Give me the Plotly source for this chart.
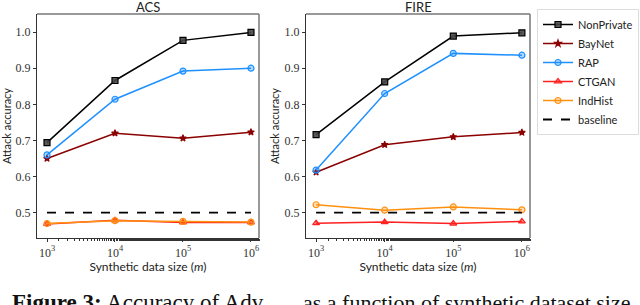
import plotly.graph_objects as go

sizes = [1e3, 1e4, 1e5, 1e6]
tick_vals = [1e3, 1e4, 1e5, 1e6]
tick_text = ["10<sup>3</sup>", "10<sup>4</sup>", "10<sup>5</sup>", "10<sup>6</sup>"]
y_ticks = [0.5, 0.6, 0.7, 0.8, 0.9, 1.0]

series_names = ["NonPrivate", "BayNet", "RAP", "CTGAN", "IndHist"]

acs_nonprivate = [0.694, 0.866, 0.977, 0.999]
acs_baynet = [0.650, 0.720, 0.706, 0.723]
acs_rap = [0.660, 0.814, 0.892, 0.900]
acs_ctgan = [0.469, 0.479, 0.473, 0.473]
acs_indhist = [0.470, 0.478, 0.476, 0.474]

fire_nonprivate = [0.716, 0.862, 0.989, 0.998]
fire_baynet = [0.612, 0.688, 0.710, 0.722]
fire_rap = [0.618, 0.830, 0.941, 0.936]
fire_ctgan = [0.471, 0.474, 0.470, 0.476]
fire_indhist = [0.522, 0.507, 0.516, 0.508]

baseline = [0.5, 0.5, 0.5, 0.5]

styles = {
    "NonPrivate": dict(color="#000000", symbol="square", size=6, fill="rgba(70,70,70,0.9)"),
    "BayNet": dict(color="#8B0000", symbol="star", size=5, fill="#8B0000"),
    "RAP": dict(color="#1E90FF", symbol="circle", size=6, fill="rgba(30,144,255,0.35)"),
    "CTGAN": dict(color="#FF2020", symbol="triangle-up", size=6, fill="rgba(255,32,32,0.55)"),
    "IndHist": dict(color="#FF9010", symbol="circle", size=6, fill="rgba(255,144,16,0.3)"),
}

panels = [
    ("ACS", "x", "y", [acs_nonprivate, acs_baynet, acs_rap, acs_ctgan, acs_indhist]),
    ("FIRE", "x2", "y2", [fire_nonprivate, fire_baynet, fire_rap, fire_ctgan, fire_indhist]),
]

fig = go.Figure()
for pi, (title, xa, ya, data) in enumerate(panels):
    for name, vals in zip(series_names, data):
        s = styles[name]
        fig.add_trace(go.Scatter(
            x=sizes, y=vals, xaxis=xa, yaxis=ya, mode="lines+markers", name=name,
            showlegend=(pi == 0),
            line=dict(color=s["color"], width=1.5),
            marker=dict(symbol=s["symbol"], size=s["size"], color=s["fill"],
                        line=dict(color=s["color"], width=1.2)),
        ))
    fig.add_trace(go.Scatter(
        x=sizes, y=baseline, xaxis=xa, yaxis=ya, mode="lines", name="baseline",
        showlegend=(pi == 0),
        line=dict(color="black", width=1.8, dash="dash"),
    ))

tick_font = dict(family="Liberation Serif, serif", size=12, color="#333")
label_font = dict(family="Lato, sans-serif", size=12, color="#222")

xcommon = dict(type="log", range=[2.853, 6.118], tickvals=tick_vals, ticktext=tick_text,
               ticks="outside", ticklen=3, tickcolor="#333", tickfont=tick_font, automargin=False,
               showgrid=False, zeroline=False, showline=True, linecolor="#333", linewidth=1.2,
               minor=dict(ticks="outside", ticklen=2, tickcolor="#333", showgrid=False),
               title=dict(text="Synthetic data size (<i>m</i>)", font=label_font, standoff=2))
ycommon = dict(range=[0.43, 1.05], tickvals=y_ticks, ticktext=["0.5", "0.6", "0.7", "0.8", "0.9", "1.0"],
               ticks="outside", ticklen=3, tickcolor="#333", tickfont=tick_font, automargin=False,
               showgrid=False, zeroline=False, showline=True, linecolor="#333", linewidth=1.2,
               title=dict(text="Attack accuracy", font=dict(family="Lato, sans-serif", size=11, color="#222"), standoff=2))

ytop = 1 - 14 / 305
ybot = 1 - 238 / 305
fig.update_layout(
    width=640, height=305, margin=dict(l=0, r=0, t=0, b=0, autoexpand=False),
    paper_bgcolor="white", plot_bgcolor="white",
    xaxis=dict(domain=[37 / 640, 259 / 640], anchor="y", **xcommon),
    yaxis=dict(domain=[ybot, ytop], anchor="x", **ycommon),
    xaxis2=dict(domain=[306 / 640, 530 / 640], anchor="y2", **xcommon),
    yaxis2=dict(domain=[ybot, ytop], anchor="x2", **ycommon),
    legend=dict(x=537 / 640, y=1 - 9 / 305, xanchor="left", yanchor="top",
                bordercolor="#ddd", borderwidth=1, bgcolor="white",
                font=dict(family="Lato, sans-serif", size=11, color="#222"),
                tracegroupgap=0, itemwidth=30),
    showlegend=True,
)

# top/right frame lines (grey)
for xd in ["x domain", "x2 domain"]:
    yd = "y domain" if xd == "x domain" else "y2 domain"
    fig.add_shape(type="line", xref=xd, yref=yd, x0=0, x1=1, y0=1, y1=1, line=dict(color="#777", width=1.5))
    fig.add_shape(type="line", xref=xd, yref=yd, x0=1, x1=1, y0=0, y1=1, line=dict(color="#777", width=1.5))

# panel titles
for xc, t in [((37 + 259) / 2 / 640, "ACS"), ((306 + 530) / 2 / 640, "FIRE")]:
    fig.add_annotation(x=xc, y=1 + 3 / 305, xref="paper", yref="paper", text=t, showarrow=False,
                       xanchor="center", yanchor="top", font=dict(family="Lato, sans-serif", size=13, color="#222"))

# caption (clipped at bottom)
fig.add_annotation(x=10 / 640, y=1 - 288 / 305, xref="paper", yref="paper",
                   text="<b>Figure 3:</b> Accuracy of Adv", showarrow=False,
                   xanchor="left", yanchor="top",
                   font=dict(family="Liberation Serif, serif", size=23, color="#111"))
fig.add_annotation(x=301 / 640, y=1 - 288 / 305, xref="paper", yref="paper",
                   text="as a function of synthetic dataset size", showarrow=False,
                   xanchor="left", yanchor="top",
                   font=dict(family="Liberation Serif, serif", size=22, color="#111"))

fig.write_html("out.html", config={"displayModeBar": False},
               post_script="document.body.style.margin='0';document.body.style.padding='0';")
